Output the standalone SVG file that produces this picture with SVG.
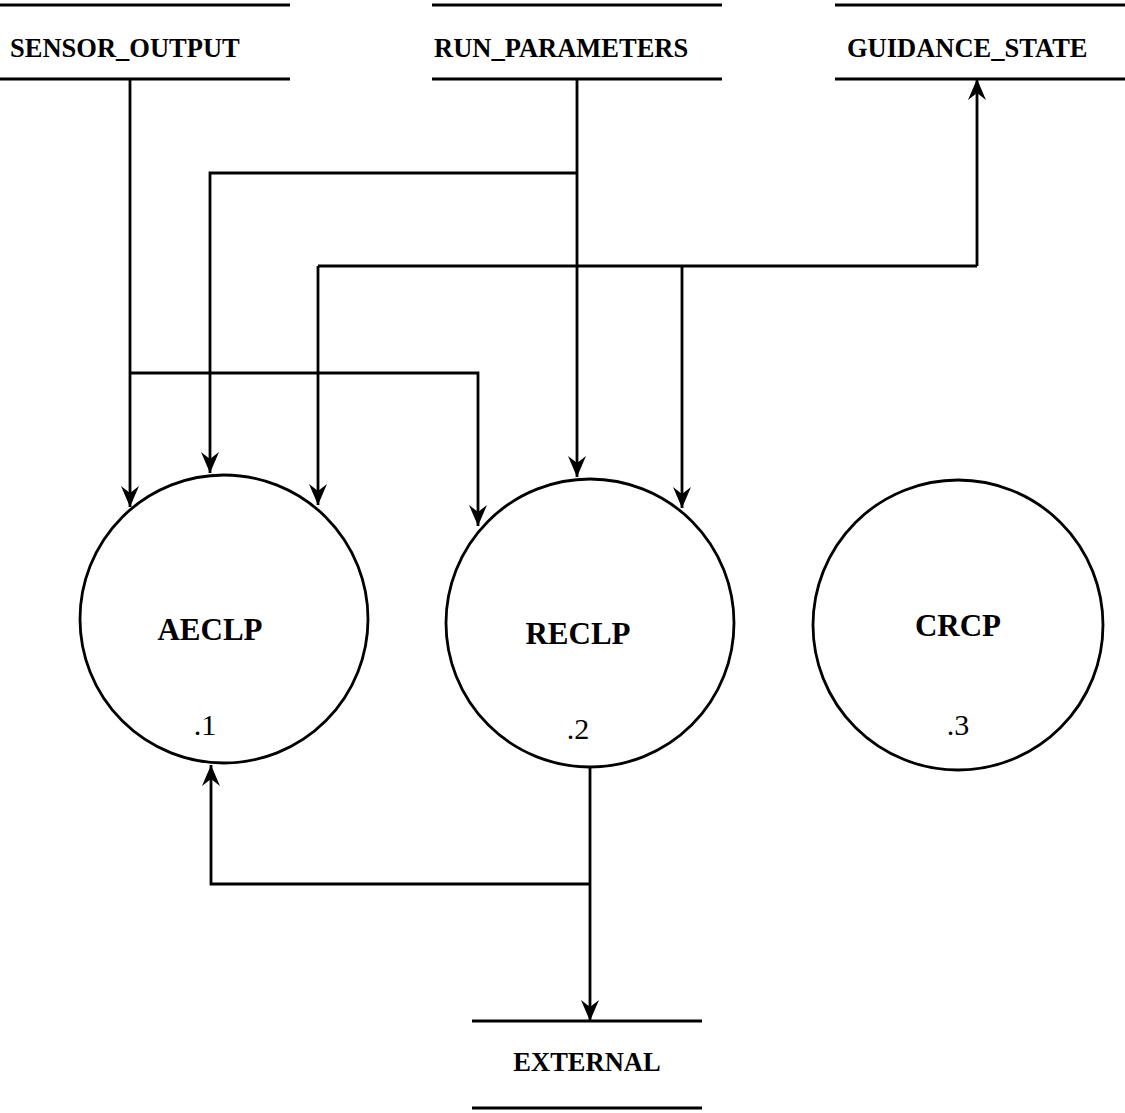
<svg xmlns="http://www.w3.org/2000/svg" width="1125" height="1113" viewBox="0 0 1125 1113">
  <style>
    .line { fill: none; stroke: #000; stroke-width: 2.8; }
    .store-label { font-family: "Liberation Serif", "Times New Roman", serif; font-weight: bold; font-size: 26.5px; fill: #000; }
    .proc { fill: #fff; stroke: #000; stroke-width: 2.8; }
    .proc-name { font-family: "Liberation Serif", "Times New Roman", serif; font-weight: bold; font-size: 31px; fill: #000; text-anchor: middle; }
    .proc-num { font-family: "Liberation Serif", "Times New Roman", serif; font-size: 30px; fill: #000; text-anchor: middle; }
    .flow { fill: none; stroke: #000; stroke-width: 2.8; }
    .flow-arrow { marker-end: url(#arrow); }
  </style>
  <defs>
    <!-- notched, filled arrowhead; tip sits on the path end -->
    <marker id="arrow" markerUnits="userSpaceOnUse" viewBox="-22 -10 23 20" refX="0" refY="0" markerWidth="23" markerHeight="20" orient="auto">
      <path d="M0,0 L-21,-9 L-14,0 L-21,9 Z" fill="#000"/>
    </marker>
  </defs>

  <rect width="1125" height="1113" fill="#fff"/>

  <!-- data stores -->
  <g id="sensor_output">
    <line class="line" x1="0" y1="5" x2="290" y2="5"/>
    <line class="line" x1="0" y1="79" x2="290" y2="79"/>
    <text class="store-label" x="10" y="57">SENSOR_OUTPUT</text>
  </g>
  <g id="run_parameters">
    <line class="line" x1="432" y1="5" x2="722" y2="5"/>
    <line class="line" x1="432" y1="79" x2="722" y2="79"/>
    <text class="store-label" x="434" y="57">RUN_PARAMETERS</text>
  </g>
  <g id="guidance_state">
    <line class="line" x1="835" y1="5" x2="1125" y2="5"/>
    <line class="line" x1="835" y1="79" x2="1125" y2="79"/>
    <text class="store-label" x="847" y="57">GUIDANCE_STATE</text>
  </g>
  <g id="external">
    <line class="line" x1="472" y1="1021" x2="702" y2="1021"/>
    <line class="line" x1="472" y1="1108" x2="702" y2="1108"/>
    <text class="store-label" x="587" y="1071" text-anchor="middle">EXTERNAL</text>
  </g>

  <!-- processes -->
  <g id="aeclp">
    <circle class="proc" cx="224" cy="619" r="144"/>
    <text class="proc-name" x="210" y="640">AECLP</text>
    <text class="proc-num" x="205" y="735">.1</text>
  </g>
  <g id="reclp">
    <circle class="proc" cx="590" cy="623" r="144"/>
    <text class="proc-name" x="578" y="644">RECLP</text>
    <text class="proc-num" x="578" y="739">.2</text>
  </g>
  <g id="crcp">
    <circle class="proc" cx="958" cy="625" r="145"/>
    <text class="proc-name" x="958" y="636">CRCP</text>
    <text class="proc-num" x="958" y="735">.3</text>
  </g>

  <!-- data flows -->
  <g id="connectors">
    <path class="flow flow-arrow" d="M130,79 V507"/>
    <path class="flow flow-arrow" d="M130,373 H478 V526"/>
    <path class="flow flow-arrow" d="M577,79 V477"/>
    <path class="flow flow-arrow" d="M577,173 H210 V473"/>
    <path class="flow flow-arrow" d="M977,266 V79"/>
    <path class="flow" d="M318,266 H977"/>
    <path class="flow flow-arrow" d="M318,266 V505"/>
    <path class="flow flow-arrow" d="M682,266 V508"/>
    <path class="flow flow-arrow" d="M590,767 V1021"/>
    <path class="flow flow-arrow" d="M590,884 H211 V765"/>
  </g>
</svg>
